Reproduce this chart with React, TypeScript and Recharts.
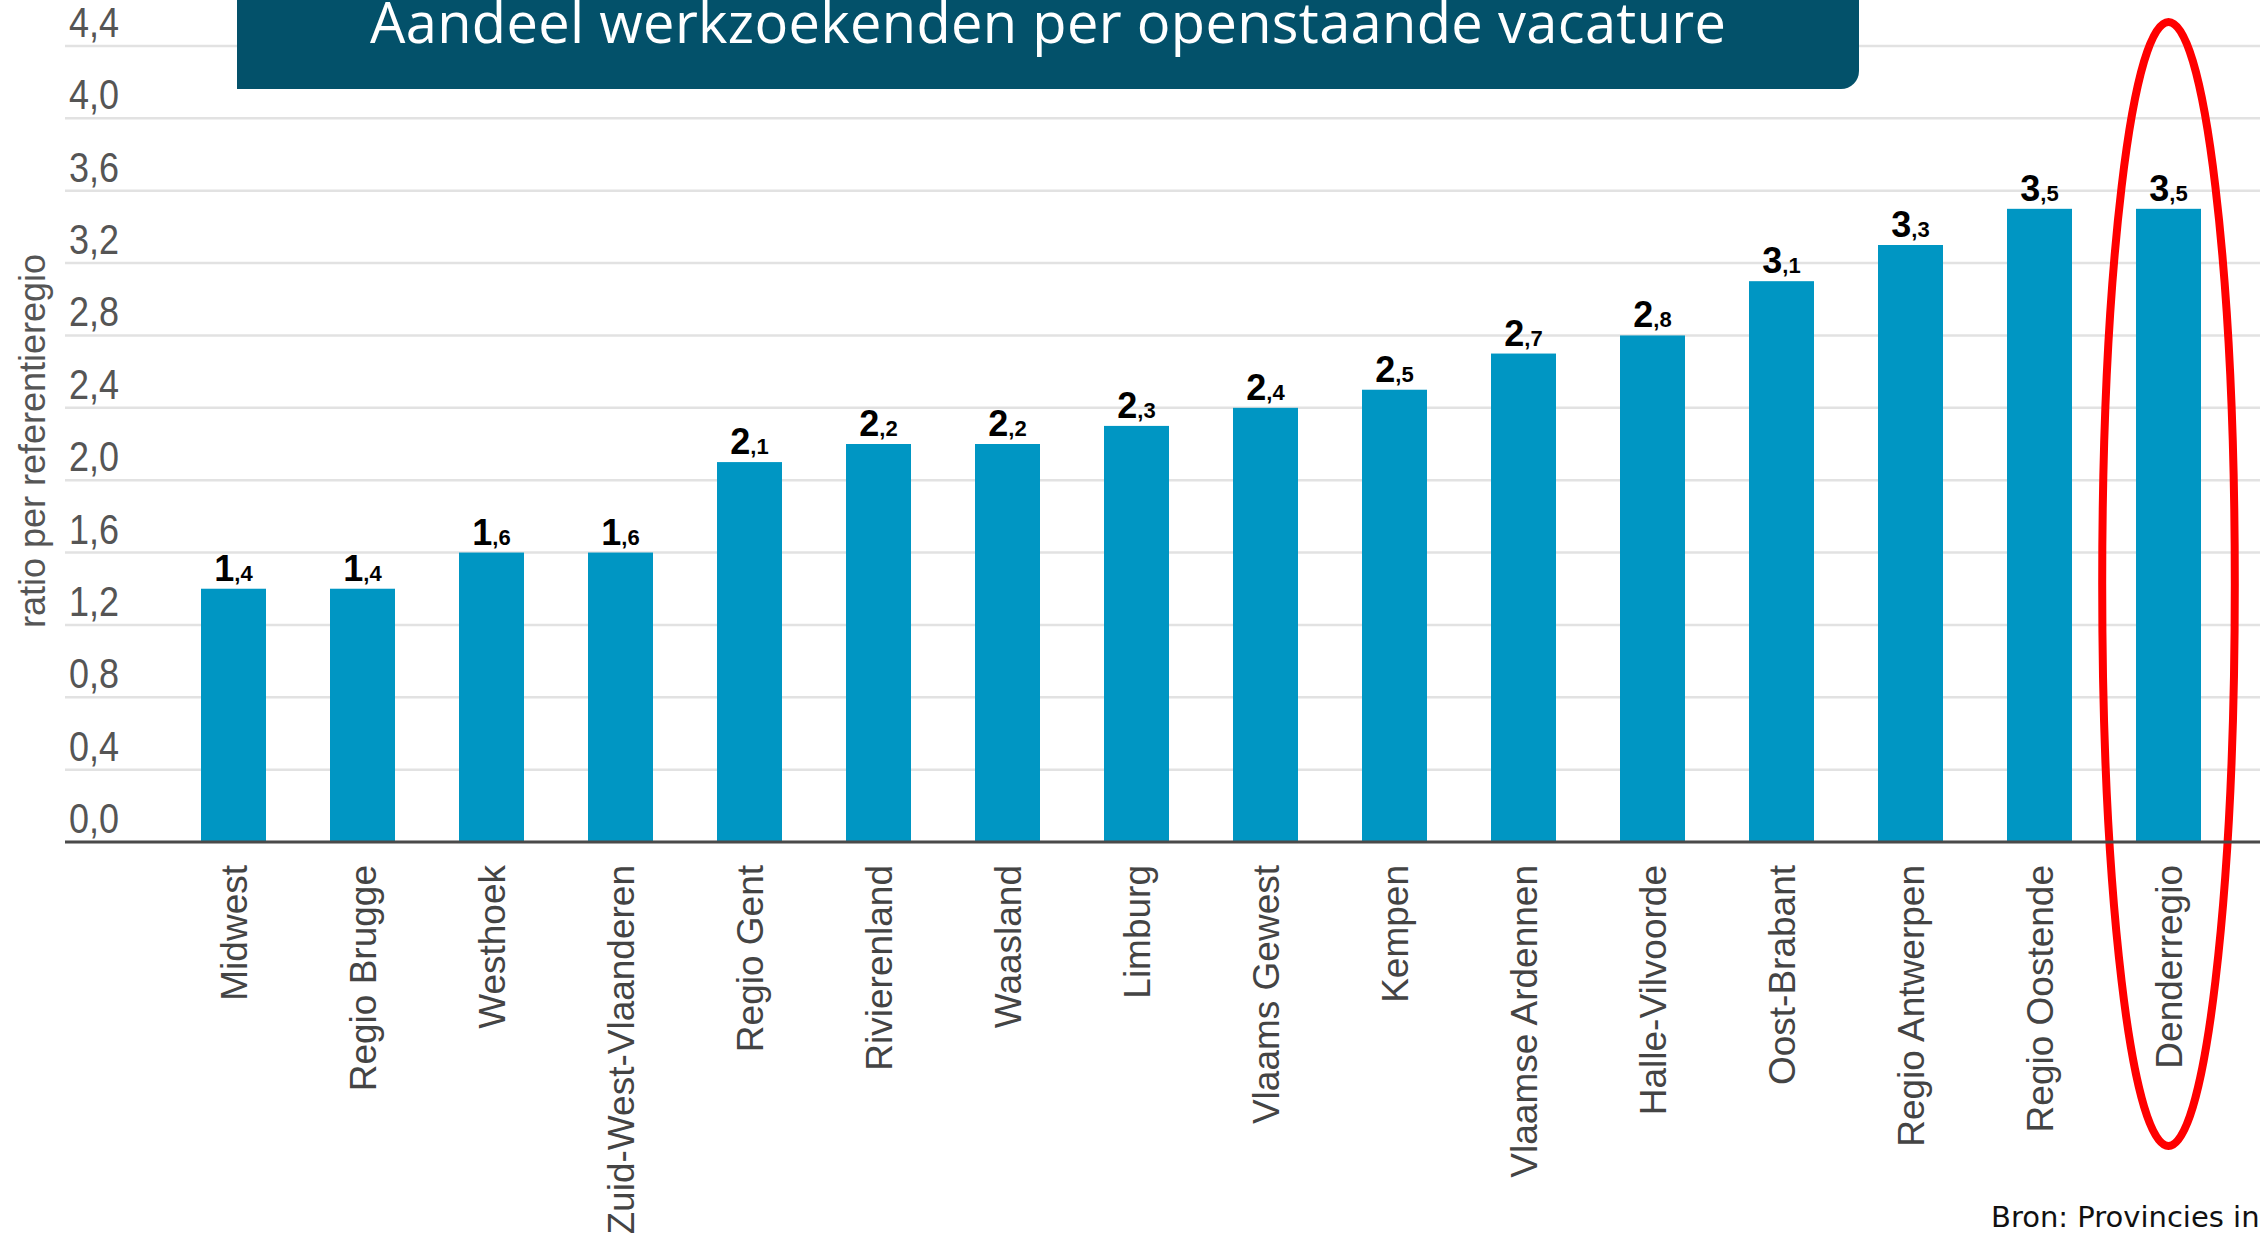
import React from "react";
import { BarChart, Bar, XAxis, YAxis, CartesianGrid, LabelList } from "recharts";

const regions = [
    "Midwest",
    "Regio Brugge",
    "Westhoek",
    "Zuid-West-Vlaanderen",
    "Regio Gent",
    "Rivierenland",
    "Waasland",
    "Limburg",
    "Vlaams Gewest",
    "Kempen",
    "Vlaamse Ardennen",
    "Halle-Vilvoorde",
    "Oost-Brabant",
    "Regio Antwerpen",
    "Regio Oostende",
    "Denderregio",
];
const ratios = [1.4, 1.4, 1.6, 1.6, 2.1, 2.2, 2.2, 2.3, 2.4, 2.5, 2.7, 2.8, 3.1, 3.3, 3.5, 3.5];
const yTicks = [0, 0.4, 0.8, 1.2, 1.6, 2.0, 2.4, 2.8, 3.2, 3.6, 4.0, 4.4];
const highlighted = "Denderregio";

const title = "Aandeel werkzoekenden per openstaande vacature";
const axisTitle = "ratio per referentieregio";
const source = "Bron: Provincies in cijfers";

const data = regions.map((name, i) => ({ name, value: ratios[i] }));

const W = 2260;
const H = 1233;
const PLOT_LEFT = 65;

const fmt = (v: number) => v.toFixed(1).replace(".", ",");

// y labels sit inside the plot, just above their gridline
const YTick = (props: any) => {
    const { y, payload } = props;
    return (
        <text
            x={PLOT_LEFT + 4}
            y={y - 9}
            fill="#555"
            fontSize={37}
            textLength={50}
            lengthAdjust="spacingAndGlyphs"
            transform={`translate(0,${y - 9}) scale(1,1.15) translate(0,${-(y - 9)})`}
            fontFamily="'Liberation Sans', Arial, sans-serif"
        >
            {fmt(payload.value)}
        </text>
    );
};

const XTick = (props: any) => {
    const { x, y, payload } = props;
    return (
        <g transform={`translate(${x},${y})`}>
            <text
                transform="rotate(-90)"
                x={-23}
                y={0}
                dy="0.36em"
                textAnchor="end"
                fill="#444"
                fontSize={37}
                fontFamily="'Liberation Sans', Arial, sans-serif"
            >
                {payload.value}
            </text>
        </g>
    );
};

const ValueLabel = (props: any) => {
    const { x, y, width, value } = props;
    const [whole, dec] = fmt(value).split(",");
    return (
        <text
            x={x + width / 2}
            y={y - 8}
            textAnchor="middle"
            fill="#000"
            fontWeight="bold"
            fontFamily="'Liberation Sans', Arial, sans-serif"
        >
            <tspan fontSize={36}>{whole}</tspan>
            <tspan fontSize={22}>{"," + dec}</tspan>
        </text>
    );
};

const BarShape = (props: any) => {
    const { x, y, width, height, fill, payload } = props;
    const base = y + height;
    return (
        <g>
            <rect x={x} y={y} width={width} height={height} fill={fill} />
            {payload.name === highlighted && (
                <ellipse
                    cx={x + width / 2}
                    cy={base - 258}
                    rx={width * 1.02}
                    ry={562}
                    fill="none"
                    stroke="#ff0000"
                    strokeWidth={8}
                />
            )}
        </g>
    );
};

export default function App() {
    return (
        <div style={{ position: "fixed", left: 0, top: 0, width: W, height: H, background: "#fff", overflow: "hidden" }}>
            <BarChart width={W} height={H} data={data} margin={{ top: 46, right: 0, bottom: 0, left: 0 }}>
                <CartesianGrid vertical={false} stroke="#e2e2e2" strokeWidth={2.5} />
                <YAxis
                    width={PLOT_LEFT}
                    domain={[0, 4.4]}
                    ticks={yTicks}
                    interval={0}
                    axisLine={false}
                    tickLine={false}
                    tick={<YTick />}
                />
                <XAxis
                    dataKey="name"
                    interval={0}
                    height={391}
                    padding={{ left: 104, right: 27 }}
                    tickLine={false}
                    tickSize={0}
                    tickMargin={0}
                    axisLine={{ stroke: "#4a4a4a", strokeWidth: 3 }}
                    tick={<XTick />}
                />
                <Bar dataKey="value" fill="#0096c3" barSize={65} isAnimationActive={false} shape={<BarShape />}>
                    <LabelList dataKey="value" content={<ValueLabel />} />
                </Bar>
            </BarChart>
            <svg width={W} height={H} style={{ position: "absolute", left: 0, top: 0, pointerEvents: "none" }}>
                <path d="M237,0 H1859 V71 A18,18 0 0 1 1841,89 H237 Z" fill="#03516a" />
                <text
                    x={1048}
                    y={43}
                    textAnchor="middle"
                    fill="#fff"
                    fontSize={56}
                    textLength={1356}
                    lengthAdjust="spacing"
                    fontFamily="'Open Sans', 'Noto Sans', sans-serif"
                >
                    {title}
                </text>
                <text
                    transform="translate(32,441) rotate(-90)"
                    textAnchor="middle"
                    dy="0.35em"
                    fill="#555"
                    fontSize={36}
                    fontFamily="'Liberation Sans', Arial, sans-serif"
                >
                    {axisTitle}
                </text>
                <text x={1991} y={1227} fill="#111" fontSize={29} fontFamily="'DejaVu Sans', sans-serif">
                    {source}
                </text>
            </svg>
        </div>
    );
}
